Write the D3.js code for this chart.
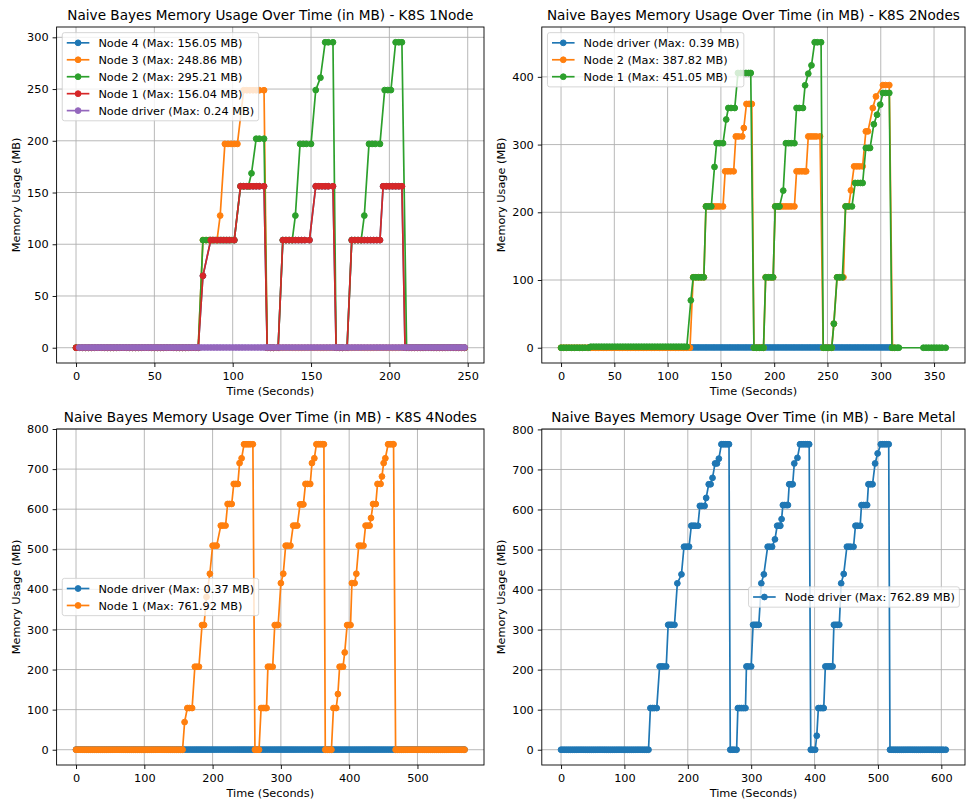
<!DOCTYPE html>
<html>
<head>
<meta charset="utf-8">
<script src="https://cdn.jsdelivr.net/npm/d3@7"></script>
<style>
  body { margin: 0; background: #fff; }
  svg { display: block; font-family: "DejaVu Sans", sans-serif; }
</style>
</head>
<body>
<svg id="chart" width="966" height="803"></svg>
<script>
// every series is a list of runs: [first second, last second, MB]
// a run holds one sample every <step> seconds at the same value

// K8S 1Node
const k1Step = 2;
const k1Node4 = [[0,78,0],[81,81,69.5],[86,101,104],[105,120,156.05],[122,129,0],[132,149,104],[153,164,156.05],[166,173,0],[176,194,104],[196,208,156.05],[210,248,0]];
const k1Node3 = [[0,78,0],[81,90,104],[92,92,127.7],[95,103,197],[107,120,248.86],[122,248,0]];
const k1Node2 = [[0,78,0],[81,101,104],[105,110,156],[112,112,168.6],[115,120,202],[122,129,0],[132,138,104],[140,140,127.7],[143,150,197],[153,153,249],[156,156,261],[159,164,295.21],[166,173,0],[176,182,104],[184,184,127.7],[187,194,197],[197,201,249],[204,208,295.21],[211,248,0]];
const k1Node1 = [[0,78,0],[81,81,69.5],[86,101,104],[105,120,156.04],[122,129,0],[132,149,104],[153,164,156.04],[166,173,0],[176,194,104],[196,208,156.04],[210,248,0]];
const k1Driver = [[2,248,0.24]];

// K8S 2Nodes
const k2Step = 2.5;
const k2Driver = [[26,310,0.39]];
const k2Node2 = [[0,121,0],[124,134,104],[136,152,208.7],[154,162,260.5],[164,170,312],[171.5,171.5,324.5],[174,179,360],[181,190,0],[192,199,104],[201,219,208.7],[221,230,260.5],[232,243,312],[246,254,0],[256,256,35.5],[259,265,104],[267,270,208.7],[272,272,232.4],[275,283,267.8],[286,288,319.5],[292.5,292.5,354],[295.5,295.5,371],[302,308,387.82],[311,313,0]];
const k2Node1 = [[0,26,0],[28,118,1.5],[121.8,121.8,70],[124,134,104],[136,141,208.7],[144,144,267],[146,152,302],[155,155,337],[157,163,354],[166,178,405.7],[181,190,0],[192,199,104],[201,205,208.7],[208.5,208.5,232],[211,219,302],[221,227,354],[229,229,387.5],[232,232,404.7],[235,235,417],[238,244,451.05],[246,254,0],[256,256,35.5],[259,264,104],[267,273,208.7],[276,283,243.3],[286,290,295],[293.5,293.5,330],[296.5,296.5,344],[299.5,299.5,359],[302,308,376.2],[310.5,317,0],[340,361,0]];

// K8S 4Nodes
const k4Step = 3;
const k4Driver = [[0,569,0.37]];
const k4Node1 = [[0,156,0],[159,159,69],[163,170,104],[174,180,207],[184.5,187.5,311],[191,191,381],[196,196,439],[200,206,509],[212,219,559],[222,228,613],[231,237,663],[239.5,239.5,715],[242.5,242.5,727],[246,259,761.92],[262,268,0],[271,279,104],[281,288,207],[291,296,311],[300,300,415.6],[303.5,303.5,439],[307,314,509],[318,324,559],[328,333,612],[336,343,663],[345.5,345.5,715],[349,349,727],[352,363,761.92],[365,374,0],[377,381,104],[383.5,383.5,139],[386,391,207],[393.5,393.5,242.7],[397,402,311],[404,408,415.6],[410.5,410.5,439],[414,421,509],[424,430,559],[432,432,578],[435,439,613],[441.5,446,663],[448,448,681.6],[450.5,450.5,715],[453,453,727],[457,465,761.92],[468,569,0]];

// Bare Metal
const bmStep = 3;
const bmDriver = [[0,138,0],[141,151,104],[155.5,166,208],[169,179,312],[183.5,183.5,415.6],[190,190,438],[194,202,507],[205.5,216,559.4],[219,226.5,609],[229,229,629],[233,236,663],[239,239,679],[243,246,715],[249,249,727],[253,265,762.89],[267,277,0],[279,291,104],[292.5,300,208],[303,312,312],[316,316,415.6],[320,320,438],[326,333,507],[337.5,337.5,525.4],[341,346,559.4],[348,348,576],[350,358,611],[360,365.5,663],[368,368,715],[373,373,729],[377,391.5,762.89],[394,401,0],[403.5,403.5,35],[406,414.5,104],[417,428.5,208],[430.5,439,312],[442,442,415.6],[446,446,439],[451,461.5,507],[464.5,472,559.4],[474,483,611],[485,491.5,663],[495.5,495.5,715],[499.5,499.5,740],[504.5,517,762.89],[519,607,0]];

// tick labels
const ticks1X = [0, 50, 100, 150, 200, 250];
const ticks1Y = [0, 50, 100, 150, 200, 250, 300];
const ticks2X = [0, 50, 100, 150, 200, 250, 300, 350];
const ticks2Y = [0, 100, 200, 300, 400];
const ticks4X = [0, 100, 200, 300, 400, 500];
const ticksBmX = [0, 100, 200, 300, 400, 500, 600];
const ticksBigY = [0, 100, 200, 300, 400, 500, 600, 700, 800];

const colors = ["#1f77b4", "#ff7f0e", "#2ca02c", "#d62728", "#9467bd"];

function expand(runs, step) {
    const pts = [];
    runs.forEach(([a, b, v]) => {
        for (let t = a; t < b - step * 0.5; t += step) pts.push([t, v]);
        pts.push([b, v]);
    });
    return pts;
}

class MemoryPanel
{
    fs = 11.3;

    constructor(svg, box, title, xTicks, yTicks, legendLoc) {
        this.svg = svg;
        this.box = box;
        this.title = title;
        this.xTicks = xTicks;
        this.yTicks = yTicks;
        this.legendLoc = legendLoc;
    }

    initialize(id) {
        const b = this.box;
        this.root = this.svg.append("g");
        this.root.append("clipPath").attr("id", id)
            .append("rect").attr("x", b.x).attr("y", b.y).attr("width", b.w).attr("height", b.h);
        this.grid = this.root.append("g");
        this.plot = this.root.append("g").attr("clip-path", `url(#${id})`);
        this.axes = this.root.append("g");
        this.legend = this.root.append("g");
    }

    update(series) {
        const b = this.box;
        series.forEach(s => s.points = expand(s.runs, s.step));
        const all = series.flatMap(s => s.points);
        const [x0, x1] = d3.extent(all, d => d[0]);
        const [y0, y1] = d3.extent(all, d => d[1]);
        const px = (x1 - x0) * 0.05, py = (y1 - y0) * 0.05;
        this.x = d3.scaleLinear().domain([x0 - px, x1 + px]).range([b.x, b.x + b.w]);
        this.y = d3.scaleLinear().domain([y0 - py, y1 + py]).range([b.y + b.h, b.y]);

        // grid
        this.grid.selectAll(".gx").data(this.xTicks).join("line").attr("class", "gx")
            .attr("x1", d => this.x(d)).attr("x2", d => this.x(d))
            .attr("y1", b.y).attr("y2", b.y + b.h)
            .attr("stroke", "#b0b0b0").attr("stroke-width", 0.9);
        this.grid.selectAll(".gy").data(this.yTicks).join("line").attr("class", "gy")
            .attr("y1", d => this.y(d)).attr("y2", d => this.y(d))
            .attr("x1", b.x).attr("x2", b.x + b.w)
            .attr("stroke", "#b0b0b0").attr("stroke-width", 0.9);

        // series
        const line = d3.line().x(d => this.x(d[0])).y(d => this.y(d[1]));
        const groups = this.plot.selectAll(".series").data(series).join("g").attr("class", "series");
        groups.append("path")
            .attr("d", d => line(d.points))
            .attr("fill", "none")
            .attr("stroke", d => d.color)
            .attr("stroke-width", 1.7)
            .attr("stroke-linejoin", "round");
        groups.selectAll("circle").data(d => d.points.map(p => [p[0], p[1], d.color])).join("circle")
            .attr("cx", d => this.x(d[0]))
            .attr("cy", d => this.y(d[1]))
            .attr("r", 2.9)
            .attr("fill", d => d[2])
            .attr("stroke", d => d[2])
            .attr("stroke-width", 1);

        // spines
        this.axes.append("rect")
            .attr("x", b.x).attr("y", b.y).attr("width", b.w).attr("height", b.h)
            .attr("fill", "none").attr("stroke", "#000").attr("stroke-width", 0.9);

        const xAxis = this.axes.append("g")
            .attr("transform", `translate(0, ${b.y + b.h})`)
            .call(d3.axisBottom(this.x).tickValues(this.xTicks).tickSize(4).tickPadding(4.5).tickSizeOuter(0));
        const yAxis = this.axes.append("g")
            .attr("transform", `translate(${b.x}, 0)`)
            .call(d3.axisLeft(this.y).tickValues(this.yTicks).tickSize(4).tickPadding(4).tickSizeOuter(0));
        [xAxis, yAxis].forEach(a => {
            a.select(".domain").remove();
            a.attr("font-family", null).attr("font-size", null);
            a.selectAll("line").attr("stroke", "#000").attr("stroke-width", 0.9);
            a.selectAll("text").style("font-size", this.fs + "px").attr("fill", "#000");
        });

        let tickW = 0;
        yAxis.selectAll("text").each(function() { tickW = Math.max(tickW, this.getComputedTextLength()); });

        this.axes.append("text")
            .attr("x", b.x + b.w / 2).attr("y", b.y - 7)
            .attr("text-anchor", "middle")
            .style("font-size", "13.6px")
            .text(this.title);

        this.axes.append("text")
            .attr("x", b.x + b.w / 2).attr("y", b.y + b.h + 32)
            .attr("text-anchor", "middle")
            .style("font-size", this.fs + "px")
            .text("Time (Seconds)");

        const lx = b.x - 8 - tickW - 7;
        this.axes.append("text")
            .attr("transform", `translate(${lx}, ${b.y + b.h / 2}) rotate(-90)`)
            .attr("text-anchor", "middle")
            .style("font-size", this.fs + "px")
            .text("Memory Usage (MB)");

        // legend
        const fs = this.fs, pad = 0.4 * fs, gap = 0.5 * fs, hl = 2 * fs, htp = 0.8 * fs;
        const frame = this.legend.append("rect");
        const rows = this.legend.selectAll(".row").data(series).join("g").attr("class", "row")
            .attr("transform", (d, i) => `translate(0, ${pad + fs / 2 + i * (fs + gap)})`);
        rows.append("line")
            .attr("x1", pad).attr("x2", pad + hl)
            .attr("stroke", d => d.color).attr("stroke-width", 1.7);
        rows.append("circle")
            .attr("cx", pad + hl / 2).attr("r", 2.9)
            .attr("fill", d => d.color).attr("stroke", d => d.color).attr("stroke-width", 1);
        rows.append("text")
            .attr("x", pad + hl + htp).attr("dy", "0.36em")
            .style("font-size", fs + "px")
            .text(d => `${d.name} (Max: ${d3.max(d.points, p => p[1]).toFixed(2)} MB)`);

        let textW = 0;
        rows.selectAll("text").each(function() { textW = Math.max(textW, this.getComputedTextLength()); });
        const lw = pad + hl + htp + textW + pad;
        const lh = 2 * pad + series.length * fs + (series.length - 1) * gap;
        frame.attr("width", lw).attr("height", lh).attr("rx", 0.2 * fs)
            .attr("fill", "#fff").attr("fill-opacity", 0.8)
            .attr("stroke", "#cccccc").attr("stroke-opacity", 0.8).attr("stroke-width", 1);

        const ba = 0.5 * fs;
        let tx = b.x + ba, ty = b.y + ba;
        if (this.legendLoc === "center left") ty = b.y + b.h / 2 - lh / 2;
        if (this.legendLoc === "center right") { tx = b.x + b.w - ba - lw; ty = b.y + b.h / 2 - lh / 2; }
        this.legend.attr("transform", `translate(${tx}, ${ty})`);
    }
}

const svg = d3.select("#chart");
svg.append("rect").attr("width", 966).attr("height", 803).attr("fill", "#fff");

const p1 = new MemoryPanel(svg, {x: 56.6, y: 27, w: 427.4, h: 336},
    "Naive Bayes Memory Usage Over Time (in MB) - K8S 1Node", ticks1X, ticks1Y, "upper left");
p1.initialize("clip1");
p1.update([
    {name: "Node 4", runs: k1Node4, step: k1Step, color: colors[0]},
    {name: "Node 3", runs: k1Node3, step: k1Step, color: colors[1]},
    {name: "Node 2", runs: k1Node2, step: k1Step, color: colors[2]},
    {name: "Node 1", runs: k1Node1, step: k1Step, color: colors[3]},
    {name: "Node driver", runs: k1Driver, step: k1Step, color: colors[4]}
]);

const p2 = new MemoryPanel(svg, {x: 541.8, y: 27, w: 423.2, h: 336},
    "Naive Bayes Memory Usage Over Time (in MB) - K8S 2Nodes", ticks2X, ticks2Y, "upper left");
p2.initialize("clip2");
p2.update([
    {name: "Node driver", runs: k2Driver, step: k2Step, color: colors[0]},
    {name: "Node 2", runs: k2Node2, step: k2Step, color: colors[1]},
    {name: "Node 1", runs: k2Node1, step: k2Step, color: colors[2]}
]);

const p3 = new MemoryPanel(svg, {x: 56.6, y: 429, w: 427.4, h: 336},
    "Naive Bayes Memory Usage Over Time (in MB) - K8S 4Nodes", ticks4X, ticksBigY, "center left");
p3.initialize("clip3");
p3.update([
    {name: "Node driver", runs: k4Driver, step: k4Step, color: colors[0]},
    {name: "Node 1", runs: k4Node1, step: k4Step, color: colors[1]}
]);

const p4 = new MemoryPanel(svg, {x: 541.8, y: 429, w: 423.2, h: 336},
    "Naive Bayes Memory Usage Over Time (in MB) - Bare Metal", ticksBmX, ticksBigY, "center right");
p4.initialize("clip4");
p4.update([
    {name: "Node driver", runs: bmDriver, step: bmStep, color: colors[0]}
]);
</script>
</body>
</html>
